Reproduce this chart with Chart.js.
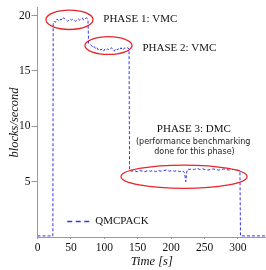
<!DOCTYPE html>
<html>
<head>
<meta charset="utf-8">
<script src="https://cdn.jsdelivr.net/npm/chart.js@4"></script>
<style>
html,body{margin:0;padding:0;background:#fff;}
#wrap{width:266px;height:270px;position:relative;}
</style>
</head>
<body>
<div id="wrap"><canvas id="c" width="266" height="270"></canvas></div>
<script>
// ---- data ----
const seriesLabel = "QMCPACK";
const timeS = [0, 4, 8, 12, 16, 20, 23, 23.5, 25, 27, 29, 31, 33, 35, 37, 39, 41, 43, 45, 47, 49, 51, 53, 55, 57, 59, 61, 63, 65, 67, 69, 71, 73, 75.5,
  76.5, 79, 81, 83, 85, 87, 89, 91, 93, 95, 97, 99, 101, 103, 105, 107, 109, 111, 113, 115, 117, 119, 121, 123, 125, 127, 129, 131, 133, 135, 137,
  137.8, 141, 145, 149, 153, 157, 161, 165, 169, 173, 177, 181, 185, 189, 193, 197, 201, 205, 209, 213, 217, 220, 222, 223.5, 225, 227, 231, 235, 239, 243, 247, 251, 255, 259, 263, 267, 271, 275, 279, 283, 287, 291, 295, 299, 303,
  303.8, 310, 320, 330, 342];
const blocksPerSecond = [0.1, 0.1, 0.1, 0.1, 0.1, 0.1, 0.1, 19.3, 19.5, 19.4, 19.7, 19.6, 19.5, 19.7, 19.6, 19.8, 19.7, 19.6, 19.5, 19.6, 19.7, 19.6, 19.7, 19.6, 19.5, 19.6, 19.7, 19.6, 19.7, 19.8, 19.6, 19.7, 19.8, 19.7,
  17.5, 17.4, 17.3, 17.1, 17.2, 17.0, 17.1, 16.9, 17.0, 16.9, 17.0, 16.8, 17.0, 16.9, 17.0, 16.9, 17.0, 17.1, 16.9, 16.8, 17.0, 16.9, 17.0, 16.9, 17.1, 16.9, 17.0, 17.1, 17.0, 17.1, 17.0,
  6.0, 5.95, 6.0, 5.9, 6.0, 5.95, 5.9, 6.0, 5.95, 6.0, 5.9, 6.0, 5.95, 6.0, 6.05, 5.95, 6.0, 5.95, 6.0, 5.9, 6.0, 5.8, 5.0, 5.9, 6.15, 6.1, 6.15, 6.1, 6.2, 6.1, 6.15, 6.1, 6.05, 6.1, 6.15, 6.1, 6.05, 6.1, 6.15, 6.1, 6.05, 6.1, 6.1, 6.05, 6.0,
  0.1, 0.1, 0.1, 0.1, 0.1];
const xTicks = [0, 50, 100, 150, 200, 250, 300];
const yTicks = [5, 10, 15, 20];
const xTitle = "Time [s]";
const yTitle = "blocks/second";
// ellipses around phases: [xMin, xMax, yMin, yMax] in data units
const phaseEllipses = [[12.7, 83.1, 18.75, 20.5], [71, 141.5, 16.5, 18.1], [125, 313.6, 4.4, 6.5]];
// annotation texts: [text, x, y, align]
const phaseTexts = [
  ["PHASE 1: VMC", 98.5, 19.7, "left"],
  ["PHASE 2: VMC", 157, 17.1, "left"],
  ["PHASE 3: DMC", 234, 9.75, "center"]
];
const noteTexts = [
  ["(performance benchmarking", 233, 8.6, "center"],
  ["done for this phase)", 235, 7.7, "center"]
];

const points = timeS.map((t, i) => ({x: t, y: blocksPerSecond[i]}));
const BLUE = '#3434ee';
const RED = '#e8262c';
const SERIF = '"Liberation Serif", "Times New Roman", serif';

const overlay = {
  id: 'overlay',
  afterDatasetsDraw(chart) {
    const ctx = chart.ctx, xs = chart.scales.x, ys = chart.scales.y;
    ctx.save();
    // ellipses
    ctx.strokeStyle = RED; ctx.lineWidth = 1.3; ctx.setLineDash([]);
    phaseEllipses.forEach(([x0, x1, y0, y1]) => {
      const px0 = xs.getPixelForValue(x0), px1 = xs.getPixelForValue(x1);
      const py0 = ys.getPixelForValue(y0), py1 = ys.getPixelForValue(y1);
      ctx.beginPath();
      ctx.ellipse((px0 + px1) / 2, (py0 + py1) / 2, Math.abs(px1 - px0) / 2, Math.abs(py1 - py0) / 2, 0, 0, Math.PI * 2);
      ctx.stroke();
    });
    // texts
    ctx.fillStyle = '#111';
    ctx.textBaseline = 'middle';
    ctx.font = '11px ' + SERIF;
    phaseTexts.forEach(([t, x, y, a]) => {
      ctx.textAlign = a;
      ctx.fillText(t, xs.getPixelForValue(x), ys.getPixelForValue(y));
    });
    ctx.font = '8px "DejaVu Sans", sans-serif';
    ctx.fillStyle = '#222';
    noteTexts.forEach(([t, x, y, a]) => {
      ctx.textAlign = a;
      ctx.fillText(t, xs.getPixelForValue(x), ys.getPixelForValue(y));
    });
    // legend
    const lx = xs.getPixelForValue(44.5), ly = ys.getPixelForValue(1.4);
    ctx.strokeStyle = BLUE; ctx.lineWidth = 1.3; ctx.setLineDash([5, 3.5]);
    ctx.beginPath(); ctx.moveTo(lx, ly); ctx.lineTo(lx + 22, ly); ctx.stroke();
    ctx.setLineDash([]);
    ctx.fillStyle = '#111'; ctx.textAlign = 'left'; ctx.font = '11px ' + SERIF;
    ctx.fillText(seriesLabel, lx + 28, ly);
    ctx.restore();
  }
};

new Chart(document.getElementById('c'), {
  type: 'line',
  data: {
    datasets: [{
      label: seriesLabel,
      data: points,
      borderColor: BLUE,
      borderWidth: 1,
      borderDash: [3, 2],
      pointRadius: 0,
      tension: 0,
      fill: false
    }]
  },
  options: {
    responsive: false,
    animation: false,
    layout: {padding: {left: 0, right: 0, top: 5, bottom: 0}},
    plugins: {legend: {display: false}, tooltip: {enabled: false}},
    scales: {
      x: {
        type: 'linear', min: 0, max: 342,
        afterFit: s => { s.height = 33; },
        afterBuildTicks: s => { s.ticks = xTicks.map(v => ({value: v})); },
        border: {display: true, color: '#9a9a9a', width: 1},
        grid: {display: true, drawOnChartArea: false, drawTicks: true, tickLength: 2, color: '#9a9a9a'},
        ticks: {color: '#111', font: {family: SERIF, size: 11.5}, padding: 2, maxRotation: 0},
        title: {display: true, text: xTitle, color: '#111', font: {family: SERIF, size: 12.5, style: 'italic'}, padding: {top: 0, bottom: 1}}
      },
      y: {
        type: 'linear', min: 0, max: 20.7,
        afterFit: s => { s.width = 37.5; },
        afterBuildTicks: s => { s.ticks = yTicks.map(v => ({value: v})); },
        border: {display: true, color: '#9a9a9a', width: 1},
        grid: {display: true, drawOnChartArea: false, drawTicks: true, tickLength: 6, color: '#9a9a9a'},
        ticks: {color: '#111', font: {family: SERIF, size: 11.5}, padding: 1},
        title: {display: true, text: yTitle, color: '#111', font: {family: SERIF, size: 12.5, style: 'italic'}, padding: {top: 7, bottom: 0}}
      }
    }
  },
  plugins: [overlay]
});
</script>
</body>
</html>
